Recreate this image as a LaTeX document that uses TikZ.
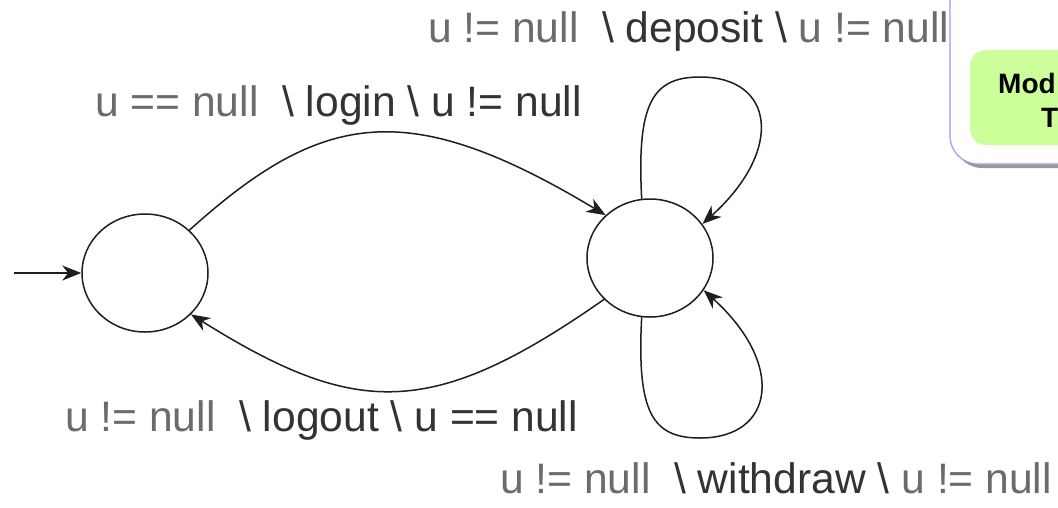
\documentclass[tikz,border=0pt]{standalone}
\usepackage{fontspec}
\setmainfont{Liberation Sans}
\usetikzlibrary{shapes.geometric,arrows.meta}
\definecolor{guard}{HTML}{6B6B6B}
\definecolor{act}{HTML}{333333}
\definecolor{boxline}{HTML}{9999FF}
\definecolor{boxgreen}{HTML}{CCFF99}
\definecolor{edge}{HTML}{1E1E1E}
\begin{document}
\begin{tikzpicture}[x=1pt,y=-1pt,
  state/.style={draw=edge, line width=1.5pt, ellipse, minimum width=126pt, minimum height=118pt, inner sep=0pt},
  trans/.style={draw=edge, line width=1.5pt, -{Stealth[length=19pt,width=15pt,inset=6pt]}},
  lbl/.style={anchor=base west, inner sep=0pt, font=\fontsize{42.6}{50}\selectfont, text=act},
  tag/.style={anchor=base west, inner sep=0pt, font=\bfseries\fontsize{28}{33}\selectfont, text=black}
]
\clip (0,0) rectangle (1058,507);
\fill[white] (0,0) rectangle (1058,507);
% box at top right
\fill[black!40, rounded corners=28pt] (954,-60) rectangle (1140,168);
\draw[boxline, fill=white, line width=1.2pt, rounded corners=28pt] (950,-60) rectangle (1140,164);
\fill[boxgreen, rounded corners=16pt] (970,50) rectangle (1140,145);
\node[tag] (m1) at (998,93) {Mod};
\node[tag] (m2) at (1041,127) {T};
% states
\node[state] (L) at (145,273) {};
\node[state] (R) at (650,258) {};
\coordinate (start) at (14,273);
\coordinate (looptop) at (700,77);
\coordinate (loopbot) at (700,438);
\draw[trans] (start) -- (L);
\draw[trans] (L.44) to[out=42,in=149,out distance=179pt,in distance=231pt] (R.136);
\draw[trans] (R.222) to[out=215,in=328,out distance=211pt,in distance=194pt] (L.318);
\draw[trans] (R.98) to[out=93,in=180,out distance=95pt,in distance=48pt] (looptop)
  to[out=0,in=42,out distance=75pt,in distance=110pt] (R.33);
\draw[trans] (R.262) to[out=267,in=180,out distance=95pt,in distance=48pt] (loopbot)
  to[out=0,in=318,out distance=75pt,in distance=110pt] (R.329);
% labels
\node[lbl] (tdep) at (428,42) {\textcolor{guard}{u != null}~~\textbackslash~deposit~\textbackslash~\textcolor{guard}{u != null}};
\node[lbl] (tlogin) at (95,116) {\textcolor{guard}{u == null}~~\textbackslash~login~\textbackslash~u != null};
\node[lbl] (tlogout) at (65,431) {\textcolor{guard}{u != null}~~\textbackslash~logout~\textbackslash~u == null};
\node[lbl] (twd) at (500,493) {\textcolor{guard}{u != null}~~\textbackslash~withdraw~\textbackslash~\textcolor{guard}{u != null}};
\end{tikzpicture}
\end{document}
